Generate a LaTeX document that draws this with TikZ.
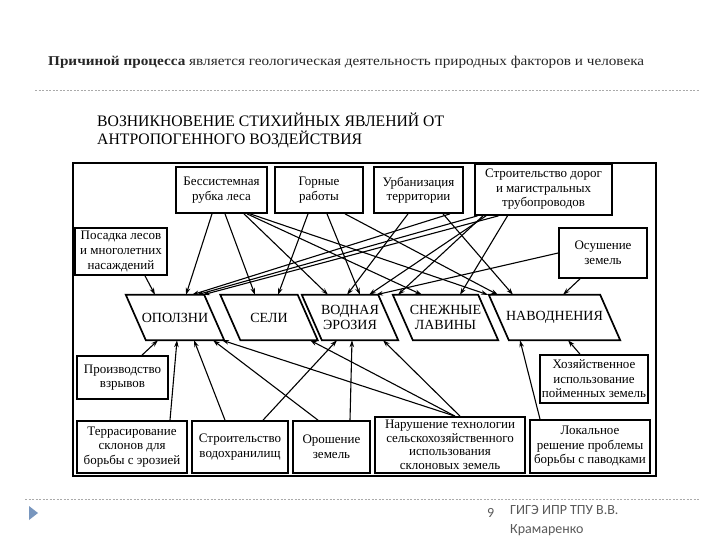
\documentclass[tikz,border=0pt]{standalone}
\usepackage{fontspec}
\usepackage{graphicx}
\setmainfont{Liberation Serif}
\newfontfamily\footfont{Carlito}
\usetikzlibrary{arrows.meta,calc}
\definecolor{sepgray}{RGB}{170,170,170}
\definecolor{footgray}{RGB}{90,90,90}
\definecolor{tribl}{RGB}{120,150,190}
\tikzset{
  box/.style={draw, line width=1.7pt, align=center, inner sep=1pt,
    font=\fontsize{13}{14.5}\selectfont},
  plabel/.style={draw=none, align=center, inner sep=0pt, minimum height=45pt,
    font=\fontsize{14}{15}\selectfont},
  para/.style={draw, line width=1.7pt, line join=miter},
  arr/.style={line width=1.1pt, -{Stealth[length=7pt,width=4.5pt]}},
  sep/.style={draw=sepgray, line width=0.7pt, dash pattern=on 2pt off 1.5pt},
}
\begin{document}
\begin{tikzpicture}[x=1pt,y=-1pt]
\useasboundingbox (0,0) rectangle (720,540);
\fill[white] (0,0) rectangle (720,540);

% header
\node[anchor=west, inner sep=0pt, text=black!85] (title) at (48,62)
  {\resizebox{596pt}{\height}{\fontsize{13.5}{15}\selectfont\textbf{Причиной процесса} является геологическая деятельность природных факторов и человека}};
\draw[sep] (35,90) -- (700,90);
\node[anchor=west, inner sep=0pt] (head1) at (97,120)
  {\resizebox{347pt}{\height}{\fontsize{16}{17}\selectfont ВОЗНИКНОВЕНИЕ СТИХИЙНЫХ ЯВЛЕНИЙ ОТ}};
\node[anchor=west, inner sep=0pt] (head2) at (97,139)
  {\resizebox{265pt}{\height}{\fontsize{16}{17}\selectfont АНТРОПОГЕННОГО ВОЗДЕЙСТВИЯ}};

% frame
\draw[line width=1.3pt] (73,163) rectangle (656,476);

% top causes
\node[box, minimum width=91pt, minimum height=46pt] (rubka) at (221.5,190) {Бессистемная\\рубка леса};
\node[box, minimum width=88pt, minimum height=46pt] (gornye) at (319,190) {Горные\\работы};
\node[box, minimum width=89pt, minimum height=46pt] (urban) at (418.5,190) {Урбанизация\\территории};
\node[box, minimum width=137pt, minimum height=51pt] (doroga) at (543.5,189.5) {Строительство дорог\\и магистральных\\трубопроводов};
\node[box, minimum width=92pt, minimum height=47pt] (posadka) at (121,251.5) {Посадка лесов\\и многолетних\\насаждений};
\node[box, minimum width=88pt, minimum height=50pt] (osush) at (603,253) {Осушение\\земель};

% phenomena
\node[plabel, minimum width=78pt] (op) at (175,317.5) {ОПОЛЗНИ};
\node[plabel, minimum width=77pt] (seli) at (269,317.5) {СЕЛИ};
\node[plabel, minimum width=76pt] (vod) at (350,317.5) {ВОДНАЯ\\ЭРОЗИЯ};
\node[plabel, minimum width=85pt] (sn) at (445.5,317.5) {СНЕЖНЫЕ\\ЛАВИНЫ};
\node[plabel, minimum width=111pt] (nav) at (554.5,317.5) {НАВОДНЕНИЯ};
\foreach \n in {op,seli,vod,sn,nav}{
  \draw[para] ([xshift=-10pt]\n.north west) -- ([xshift=-10pt]\n.north east)
    -- ([xshift=10pt]\n.south east) -- ([xshift=10pt]\n.south west) -- cycle;
}

% bottom causes
\node[box, minimum width=91pt, minimum height=43pt] (vzryv) at (122.5,377.5) {Производство\\взрывов};
\node[box, minimum width=108pt, minimum height=48pt] (hoz) at (594,379) {Хозяйственное\\использование\\пойменных земель};
\node[box, minimum width=110pt, minimum height=52pt] (terras) at (132,447) {Террасирование\\склонов для\\борьбы с эрозией};
\node[box, minimum width=96pt, minimum height=52pt] (vodohr) at (240,447) {Строительство\\водохранилищ};
\node[box, minimum width=77pt, minimum height=52pt] (orosh) at (331.5,447) {Орошение\\земель};
\node[box, minimum width=150pt, minimum height=56pt, font=\fontsize{13}{13.5}\selectfont] (narush) at (450,445) {Нарушение технологии\\сельскохозяйственного\\использования\\склоновых земель};
\node[box, minimum width=120pt, minimum height=53pt] (lokal) at (590,446.5) {Локальное\\решение проблемы\\борьбы с паводками};

% top connectors
\draw[arr] ([xshift=-9.5pt]rubka.south) -- ([xshift=11pt]op.north);
\draw[arr] ([xshift=3.5pt]rubka.south) -- ([xshift=-14pt]seli.north);
\draw[arr] ([xshift=22.5pt]rubka.south) -- ([xshift=-22pt]vod.north);
\draw[arr] ([xshift=25.5pt]rubka.south) -- ([xshift=-23.5pt]sn.north);
\draw[arr] ([xshift=28.5pt]rubka.south) -- ([xshift=-66.5pt]nav.north);
\draw[arr] ([xshift=-11pt]gornye.south) -- ([xshift=9pt]seli.north);
\draw[arr] ([xshift=8pt]gornye.south) -- ([xshift=10pt]vod.north);
\draw[arr] ([xshift=26pt]gornye.south) -- ([xshift=-56.5pt]nav.north);
\draw[arr] ([xshift=31.5pt]urban.south) -- ([xshift=17pt]op.north);
\draw[arr] ([xshift=-10.5pt]urban.south) -- ([xshift=-3pt]vod.north);
\draw[arr] ([xshift=24.5pt]urban.south) -- ([xshift=-41.5pt]nav.north);
\draw[arr] ([xshift=-66pt]doroga.south) -- ([xshift=22pt]op.north);
\draw[arr] ([xshift=-45pt]doroga.south) -- ([xshift=28pt]op.north);
\draw[arr] ([xshift=-57.5pt]doroga.south) -- ([xshift=19pt]vod.north);
\draw[arr] ([xshift=-60.5pt]doroga.south) -- ([xshift=-47.5pt]sn.north);
\draw[arr] ([xshift=-36pt]doroga.south) -- ([xshift=14.5pt]sn.north);
\draw[arr] (osush.west) -- ([xshift=26pt]vod.north);
\draw[arr] ([xshift=-23pt]osush.south) -- ([xshift=8.5pt]nav.north);
\draw[arr] ([xshift=24pt]posadka.south) -- ([xshift=-20pt]op.north);

% bottom connectors
\draw[arr] ([xshift=19.5pt]vzryv.north) -- ([xshift=-17pt]op.south);
\draw[arr] ([xshift=38pt]terras.north) -- ([xshift=2pt]op.south);
\draw[arr] ([xshift=-15pt]vodohr.north) -- ([xshift=19pt]op.south);
\draw[arr] ([xshift=23pt]vodohr.north) -- ([xshift=-13pt]vod.south);
\draw[arr] ([xshift=-13.5pt]orosh.north) -- ([xshift=38pt]op.south);
\draw[arr] ([xshift=18.5pt]orosh.north) -- ([xshift=2pt]vod.south);
\draw[arr] ([xshift=5pt]narush.north) -- ([xshift=47pt]op.south);
\draw[arr] ([xshift=5pt]narush.north) -- ([xshift=41pt]seli.south);
\draw[arr] ([xshift=10pt]narush.north) -- ([xshift=33pt]vod.south);
\draw[arr] ([xshift=-50pt]lokal.north) -- ([xshift=-34.5pt]nav.south);
\draw[arr] ([xshift=-14pt]hoz.north) -- ([xshift=13.5pt]nav.south);

% footer
\draw[sep] (25,499) -- (700,499);
\fill[tribl] (29,506) -- (38,513) -- (29,520) -- cycle;
\node[anchor=west, inner sep=0pt, text=footgray, font=\footfont\fontsize{14}{19}\selectfont] (pg) at (487,513) {9};
\node[anchor=north west, inner sep=0pt, text=footgray, align=left, font=\footfont\fontsize{14}{19}\selectfont] (auth) at (510,505) {ГИГЭ ИПР ТПУ В.В.\\Крамаренко};
\end{tikzpicture}
\end{document}
